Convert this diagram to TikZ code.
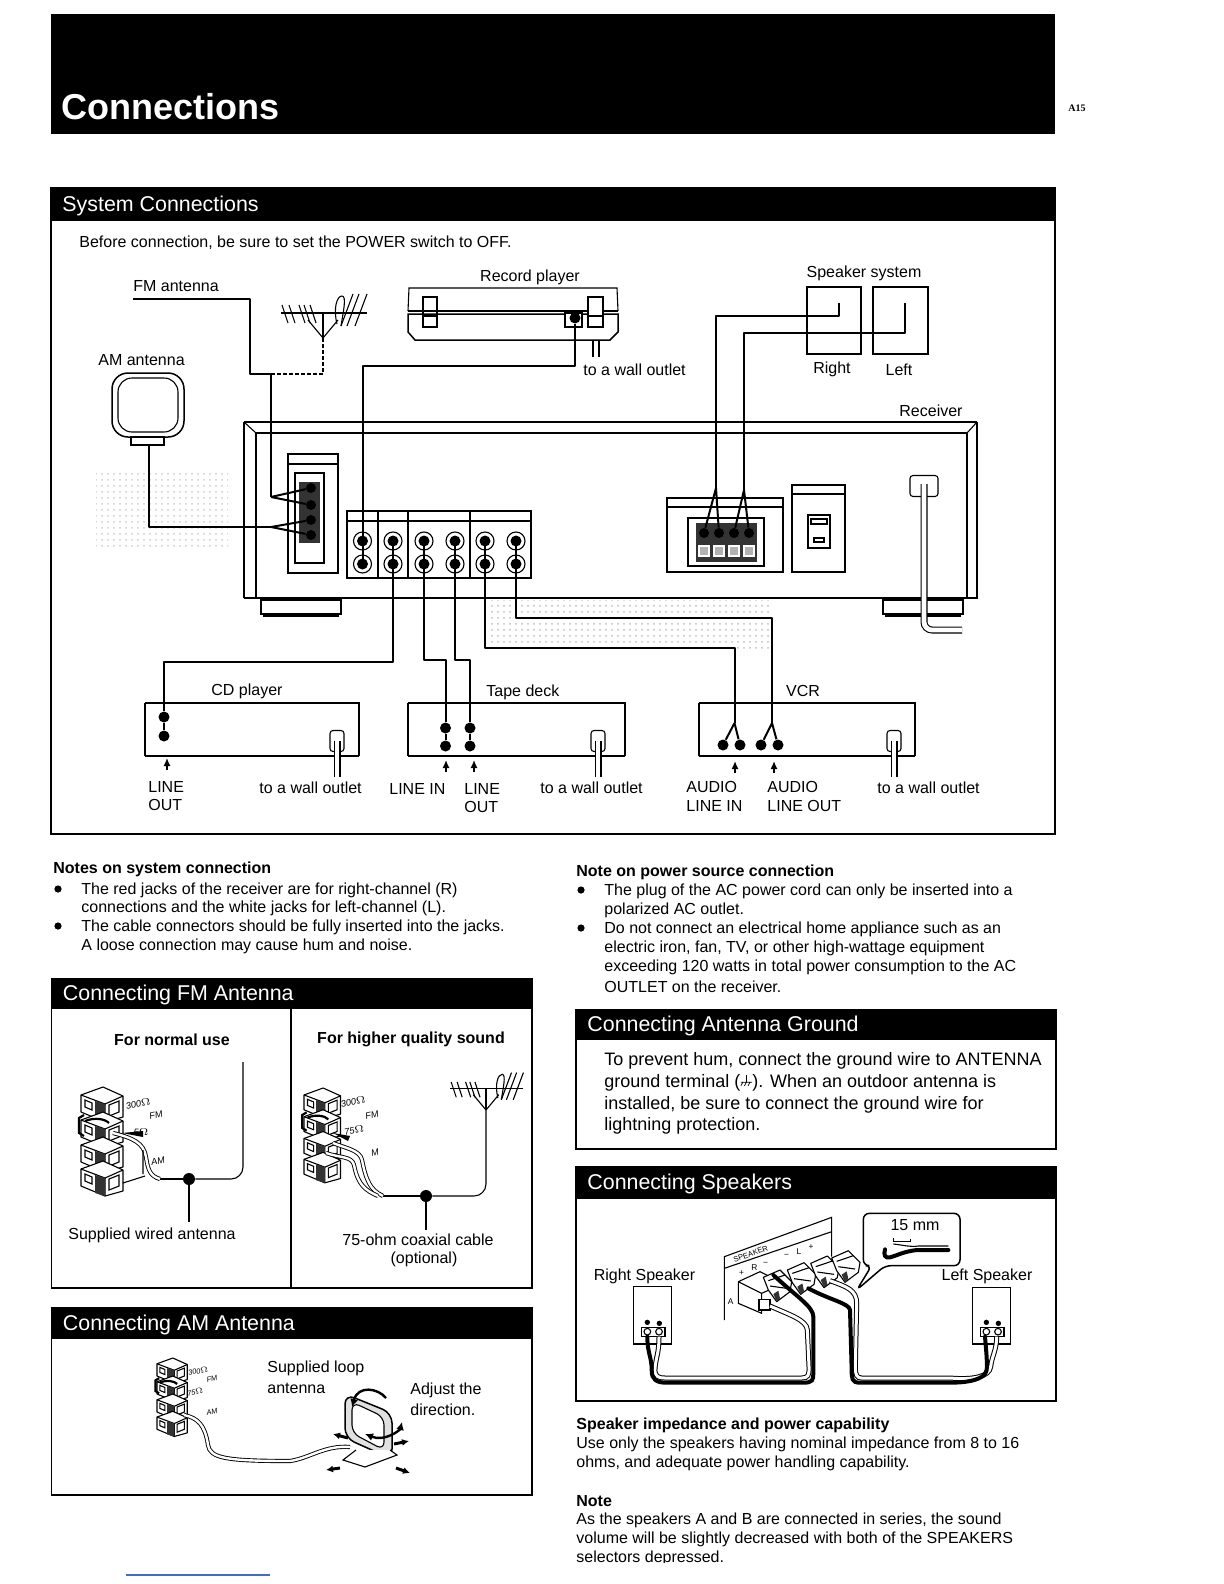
\documentclass[tikz,border=0pt]{standalone}
\usepackage{fontspec}
\setmainfont{Liberation Sans}
\newfontfamily\pagefont{Liberation Serif}
\usetikzlibrary{
    arrows.meta,
    positioning,
    calc,
    patterns
}
\definecolor{ScanBlue}{RGB}{70,105,205}
\definecolor{TermDark}{gray}{0.2}
\newcommand{\secbox}[7]{%
    \draw[frameline] (#1,#2) rectangle (#3,#5);
    \fill[black] (#1,#2) rectangle (#3,#4);
    \node[bartext] (#6) at (#1+11,#2/2+#4/2) {#7};
}
\newcommand{\groundmark}{\tikz[baseline=0pt, x=1pt, y=1pt, line width=0.35pt]{
    \draw (3.2,6) -- (3.2,2.4) (0.4,2.4) -- (6,2.4)
        (1.4,2.4) -- (0.4,0.6) (3.2,2.4) -- (2.2,0.6) (5,2.4) -- (4,0.6);}}

\tikzset{
    frameline/.style={line width=0.75pt},
    thinline/.style={line width=0.55pt},
    cable/.style={line width=1pt, line join=round},
    cord/.style={double, double distance=2.4pt, line width=0.55pt, rounded corners=4pt},
    bartext/.style={anchor=west, inner sep=0pt, yshift=-0.6pt, text=white, font=\fontsize{10.7}{12}\selectfont},
    lbl/.style={anchor=west, inner sep=0pt, yshift=-0.7pt, font=\fontsize{8}{9.6}\selectfont},
    lblc/.style={lbl, anchor=center},
    boldlbl/.style={lbl, font=\fontsize{8}{9.6}\selectfont\bfseries},
    biglbl/.style={lbl, font=\fontsize{9}{10.8}\selectfont},
    tinylbl/.style={anchor=center, inner sep=0pt, font=\fontsize{4.6}{5}\selectfont\itshape},
    jackring/.style={circle, draw, fill=white, thinline, minimum size=9pt, inner sep=0pt},
    termjack/.style={circle, fill=black, minimum size=5pt, inner sep=0pt},
    devjack/.style={circle, fill=black, minimum size=5.5pt, inner sep=0pt},
    plugbox/.style={draw, thinline, fill=white, rounded corners=1.5pt, minimum width=7pt, minimum height=10.5pt, inner sep=0pt},
    bulletmark/.style={circle, fill=black, minimum size=3.6pt, inner sep=0pt},
    joindot/.style={circle, fill=black, minimum size=6pt, inner sep=0pt},
    upmark/.style={-{Latex[length=4pt,width=3.6pt]}, line width=0.8pt},
    feedwire/.style={double, double distance=1.2pt, line width=0.45pt},
    blackwire/.style={line width=2pt, line cap=round},
    whitewire/.style={double, double distance=1.5pt, line width=0.5pt},
    termstack/.pic={
        \foreach \dy in {0,25,50,74} {
            \draw[thinline, fill=white, line join=round]
                (0,8+\dy) -- (22,\dy) -- (42,9+\dy) -- (42,30+\dy)
                -- (24,35+\dy) -- (0,25+\dy) -- cycle;
            \draw[thinline] (0,8+\dy) -- (24,17+\dy) -- (42,9+\dy) (24,17+\dy) -- (24,35+\dy);
            \fill[TermDark] (14,14+\dy) -- (24,17+\dy) -- (24,35+\dy) -- (14,32+\dy) -- cycle;
            \draw[thinline] (4,13+\dy) -- (11,16+\dy) -- (11,23+\dy) -- (4,20+\dy) -- cycle;
            \draw[thinline] (28,18+\dy) -- (38,14+\dy) -- (38,25+\dy) -- (28,29+\dy) -- cycle;
        }
        \draw[line width=1.1pt] (3,28) -- (-2,31) -- (-2,46) -- (3,49);
        \draw[line width=1.1pt] (4,34) .. controls (14,30) and (24,32) .. (28,36);
    },
    yagi/.pic={
        \draw[line width=1.1pt] (0,0) -- (0,-25);
        \draw[thinline] (-42,-25) -- (44,-25);
        \draw[thinline] (0,0) -- (-15,-18) (0,0) -- (15,-18);
        \foreach \x in {-38,-31,-21,-16,-10} {
            \draw[thinline] (\x-3,-33) -- (\x+3,-15);
        }
        \foreach \x in {24,30,38} {
            \draw[thinline] (\x+6,-44) -- (\x-6,-12);
        }
        \draw[thinline] (14,-14) .. controls (10,-30) and (14,-42) .. (19,-42)
            .. controls (24,-42) and (20,-25) .. (18,-12);
    }
}

\begin{document}
\begin{tikzpicture}[
    x=0.5pt,
    y=-0.5pt,
    >=Latex
]

\useasboundingbox (0,0) rectangle (1224,1584);

% title bar
\fill[black] (51,14) rectangle (1055,134);
\node[anchor=west, inner sep=0pt, text=white, font=\fontsize{18}{20}\selectfont\bfseries]
    (pagetitle) at (61,107) {Connections};
\node[inner sep=0pt, font=\fontsize{5}{6}\selectfont\bfseries\pagefont] (pagenum) at (1077,108) {A15};

% system connections
\secbox{51}{188}{1055}{221}{834}{sysbar}{System Connections}
\node[lbl] (sysnote) at (79,241) {Before connection, be sure to set the POWER switch to OFF.};

\fill[pattern=dots, pattern color=black!20] (96,470) rectangle (228,547);
\fill[pattern=dots, pattern color=black!25] (488,600) rectangle (772,648);

% receiver
\draw[thinline] (244,422) -- (977,422) (256,433) -- (967,433) (256,433) -- (256,598) (967,433) -- (967,598);
\draw[thinline] (244,422) -- (256,433) (977,422) -- (967,433);
\draw[thinline] (244,422) -- (244,598);
\draw[line width=1.3pt] (977,422) -- (977,598) -- (244,598);
\draw[frameline, fill=white] (261,600) rectangle (341,614);
\draw[line width=1.2pt] (263,616) -- (339,616);
\draw[frameline, fill=white] (883,600) rectangle (963,614);
\draw[line width=1.2pt] (885,616) -- (961,616);
\node[lbl] (receiverlbl) at (899,409) {Receiver};

% antenna terminals
\draw[thinline] (288,454) rectangle (338,573) (288,464) -- (338,464);
\draw[thinline] (295,473) rectangle (324,563);
\fill[TermDark] (299,482) rectangle (320,543);
\foreach \name/\y in {FMa/488,FMb/505,AMa/520,AMb/535} {
    \node[termjack] (\name) at (311,\y) {};
}

% rca jacks
\draw[thinline] (347,511) rectangle (531,578) (347,521) -- (531,521);
\foreach \x in {378,408,470} {
    \draw[thinline] (\x,511) -- (\x,578);
}
\foreach \name/\x in {A/362.5,B/393,C/424,D/455,E/485,F/516} {
    \node[jackring] (rca\name t) at (\x,541) {};
    \node[jackring] (rca\name b) at (\x,564) {};
    \fill (rca\name t) circle (5.5);
    \fill (rca\name b) circle (5.5);
    \draw[cable] (rca\name t.center) -- (rca\name b.center);
}

% speaker terminals
\draw[thinline] (667,498) rectangle (783,572) (667,507) -- (783,507);
\draw[thinline] (688,518) rectangle (764,566);
\fill[TermDark] (696,523) rectangle (757,562);
\foreach \name/\x in {Ra/704,Rb/719,La/734,Lb/749} {
    \node[termjack] (spk\name) at (\x,533) {};
    \draw[white, thinline, fill=black!30] (\x-5,546) rectangle (\x+5,556);
}

% ac outlet
\draw[thinline] (792,485) rectangle (845,572) (792,494) -- (845,494);
\draw[thinline] (808,515) rectangle (830,548);
\draw[thinline] (811,519) rectangle (827,524) (814,538) rectangle (824,542);
\node[plugbox, minimum width=14pt, minimum height=10.5pt] (acplug) at (924,486) {};
\coordinate (acend) at (962,630);
\draw[cord] (924,484) -- (924,630) -- (acend);

% fm antenna
\node[lbl] (fmlbl) at (133,285) {FM antenna};
\pic at (323,338) {yagi};
\coordinate (fmstart) at (133,299);
\coordinate (fmcorner) at (250,374);
\coordinate (fmdrop) at (271,374);
\coordinate (fmmast) at (323,338);
\coordinate (fmfork) at (271,497);
\draw[cable] (fmstart) -| (fmcorner) -- (fmdrop) -- (fmfork);
\draw[cable, dashed, dash pattern=on 2pt off 1pt] (fmdrop) -- (323,374) -- (fmmast);
\draw[cable] (fmfork) -- (FMa) (fmfork) -- (FMb);

% am antenna
\node[lbl] (amlbl) at (98,358.5) {AM antenna};
\draw[frameline, rounded corners=8pt] (112,373) rectangle (184,437);
\draw[thinline, rounded corners=7pt] (118,378) rectangle (178,432);
\draw[thinline, fill=white] (131,437) rectangle (164,445);
\coordinate (amfoot) at (149,445);
\coordinate (amfork) at (271,527);
\draw[cable] (amfoot) |- (amfork);
\draw[cable] (amfork) -- (AMa) (amfork) -- (AMb);

% record player
\node[lblc] (recordlbl) at (530,276) {Record player};
\draw[thinline] (408,311) -- (409,288) -- (617,288) -- (618,311);
\draw[frameline] (408,311) -- (618,311);
\draw[frameline] (408,314) -- (408,332) -- (415,340) -- (610,340) -- (618,332) -- (618,314) -- cycle;
\draw[thinline] (423,297) rectangle (437,327) (423,316) -- (437,316);
\draw[thinline, fill=white] (588,297) rectangle (603,327) (588,316) -- (603,316);
\draw[frameline, fill=white] (565,313) rectangle (582,327);
\node[devjack] (recjack) at (575,318) {};
\coordinate (reccorner) at (575,366);
\draw[cable] (recjack) -- (reccorner) -| (rcaAt.center);
\draw[thinline] (593,340) -- (593,357) (599,340) -- (599,357);
\node[lbl] (recwall) at (583,368) {to a wall outlet};

% speaker system
\node[lblc] (spksyslbl) at (864,272) {Speaker system};
\draw[frameline] (807,287) rectangle (861,354);
\draw[frameline] (873,287) rectangle (928,354);
\node[lblc] (rightlbl) at (832,368) {Right};
\node[lblc] (leftlbl) at (899,368) {Left};
\coordinate (spkRtop) at (839,303);
\coordinate (spkLtop) at (905,303);
\coordinate (spkRbend) at (839,316);
\coordinate (spkLbend) at (905,333);
\coordinate (spkRfork) at (716,488);
\coordinate (spkLfork) at (744,490);
\draw[cable] (spkRtop) -- (spkRbend) -| (spkRfork);
\draw[cable] (spkLtop) -- (spkLbend) -| (spkLfork);
\draw[cable] (spkRfork) -- (spkRa) (spkRfork) -- (spkRb);
\draw[cable] (spkLfork) -- (spkLa) (spkLfork) -- (spkLb);

% cd player
\draw[frameline] (145,703) -- (359,703) -- (359,756) (145,703) -- (145,756);
\draw[line width=1.1pt] (145,756) -- (359,756);
\node[lbl] (cdlbl) at (211,690) {CD player};
\node[devjack] (cdtop) at (164,717) {};
\node[devjack] (cdbot) at (164,736) {};
\coordinate (cdbend) at (393,662);
\draw[cable] (cdtop) |- (cdbend) -- (rcaBb.center);
\draw[cable] (cdtop) -- (cdbot);
\node[plugbox] (cdplug) at (337,741) {};
\coordinate (cdcord) at (337,777);
\draw[cord] (cdplug.center) -- (cdcord);
\node[lbl] (cdwall) at (259,786) {to a wall outlet};

% tape deck
\draw[frameline] (408,703) -- (625,703) -- (625,756) (408,703) -- (408,756);
\draw[line width=1.1pt] (408,756) -- (625,756);
\node[lbl] (tapelbl) at (486,691) {Tape deck};
\foreach \name/\x in {a/445.5,b/470} {
    \node[devjack] (tape\name t) at (\x,728) {};
    \node[devjack] (tape\name b) at (\x,746) {};
    \draw[cable] (tape\name t) -- (tape\name b);
}
\coordinate (tapeabend) at (424,660);
\coordinate (tapebbend) at (455,660);
\draw[cable] (tapeat) |- (tapeabend) -- (rcaCb.center);
\draw[cable] (tapebt) |- (tapebbend) -- (rcaDb.center);
\node[plugbox] (tapeplug) at (598,741) {};
\coordinate (tapecord) at (598,777);
\draw[cord] (tapeplug.center) -- (tapecord);
\node[lbl] (tapewall) at (540,786) {to a wall outlet};

% vcr
\draw[frameline] (699,703) -- (915,703) -- (915,756) (699,703) -- (699,756);
\draw[line width=1.1pt] (699,756) -- (915,756);
\node[lblc] (vcrlbl) at (803,690) {VCR};
\foreach \name/\x in {a/723,b/740,c/761,d/778} {
    \node[devjack] (vcr\name) at (\x,745) {};
}
\coordinate (vcrinfork) at (734.5,723);
\coordinate (vcroutfork) at (772,723);
\coordinate (vcrinbend) at (734.5,648);
\coordinate (vcroutbend) at (772,618);
\draw[cable] (rcaEb.center) |- (vcrinbend) -- (vcrinfork);
\draw[cable] (rcaFb.center) |- (vcroutbend) -- (vcroutfork);
\draw[cable] (vcrinfork) -- (vcra) (vcrinfork) -- (vcrb);
\draw[cable] (vcroutfork) -- (vcrc) (vcroutfork) -- (vcrd);
\node[plugbox] (vcrplug) at (894,741) {};
\coordinate (vcrcord) at (894,777);
\draw[cord] (vcrplug.center) -- (vcrcord);
\node[lbl] (vcrwall) at (877,786) {to a wall outlet};

% little arrows and jack names
\foreach \name/\x/\ya/\yb in {cd/167/770/758,ta/446/772/760,tb/474/772/760,va/735/773/761,vb/774/773/761} {
    \coordinate (up\name a) at (\x,\ya);
    \coordinate (up\name b) at (\x,\yb);
    \draw[upmark] (up\name a) -- (up\name b);
}
\node[lbl] (cdline) at (148,786) {LINE};
\node[lbl] (cdout) at (148,804) {OUT};
\node[lbl] (tapein) at (389,788) {LINE IN};
\node[lbl] (tapeline) at (464,788) {LINE};
\node[lbl] (tapeout) at (464,806) {OUT};
\node[lbl] (vcra1) at (686,786) {AUDIO};
\node[lbl] (vcra2) at (686,805) {LINE IN};
\node[lbl] (vcrb1) at (767,786) {AUDIO};
\node[lbl] (vcrb2) at (767,805) {LINE OUT};

% notes, left
\node[boldlbl] (noteshead) at (53,868) {Notes on system connection};
\foreach \y/\t [count=\i] in {
    889/{The red jacks of the receiver are for right-channel (R)},
    907/{connections and the white jacks for left-channel (L).},
    926/{The cable connectors should be fully inserted into the jacks.},
    945/{A loose connection may cause hum and noise.}} {
    \node[lbl] (noteL\i) at (81,\y) {\t};
}
\node[bulletmark] (bulA) at (58,889) {};
\node[bulletmark] (bulB) at (58,926) {};

% notes, right
\node[boldlbl] (powerhead) at (576,870.5) {Note on power source connection};
\foreach \y/\t [count=\i] in {
    890/{The plug of the AC power cord can only be inserted into a},
    909/{polarized AC outlet.},
    928/{Do not connect an electrical home appliance such as an},
    947/{electric iron, fan, TV, or other high-wattage equipment},
    966/{exceeding 120 watts in total power consumption to the AC},
    985/{OUTLET on the receiver.}} {
    \node[lbl] (noteR\i) at (604,\y) {\t};
}
\node[bulletmark] (bulC) at (581,890) {};
\node[bulletmark] (bulD) at (581,928) {};

% fm antenna section
\secbox{51.5}{979}{532}{1009}{1288}{fmbar}{Connecting FM Antenna}
\draw[frameline] (291,1009) -- (291,1288);
\node[boldlbl, anchor=center] (normalhead) at (172,1038) {For normal use};
\node[boldlbl, anchor=center] (higherhead) at (411,1038) {For higher quality sound};
\pic at (81,1087) {termstack};
\node[tinylbl, rotate=12] (fmA300) at (138,1104) {300$\Omega$};
\node[tinylbl, rotate=12] (fmAfm) at (156,1115) {FM};
\node[tinylbl] (fmA75) at (141,1132) {5$\Omega$};
\node[tinylbl, rotate=12] (fmAam) at (158,1161) {AM};
\node[joindot] (wireddot) at (189,1179) {};
\coordinate (wiredtop) at (243,1062);
\coordinate (wiredstem) at (189,1222);
\coordinate (wiredcable) at (160,1179);
\draw[thinline, rounded corners=6pt] (wiredtop) |- (wireddot);
\draw[thinline] (wireddot) -- (wiredcable);
\draw[thinline] (wireddot) -- (wiredstem);
\draw[feedwire] (wiredcable) .. controls (150,1176) and (148,1170) .. (146,1157)
    .. controls (144,1143) and (133,1138) .. (113,1133);
\fill (122,1133) -- (143,1131) -- (143,1137) -- cycle;
\draw[thinline] (123,1183) -- (145,1176) (143,1150) -- (143,1174);
\node[lblc] (wiredlbl) at (152,1234) {Supplied wired antenna};

\pic[scale=0.87] at (304,1088) {termstack};
\pic[scale=0.85] at (486,1110) {yagi};
\node[tinylbl, rotate=12] (fmB300) at (353,1102) {300$\Omega$};
\node[tinylbl, rotate=12] (fmBfm) at (372,1115) {FM};
\node[tinylbl, rotate=12] (fmB75) at (354,1130) {75$\Omega$};
\node[tinylbl, rotate=12] (fmBam) at (375,1153) {M};
\node[joindot] (coaxdot) at (426,1196) {};
\coordinate (coaxtop) at (486,1110);
\coordinate (coaxstem) at (426,1230);
\coordinate (coaxcable) at (383,1196);
\draw[thinline, rounded corners=6pt] (coaxtop) |- (coaxdot);
\draw[thinline] (coaxdot) -- (coaxcable);
\draw[thinline] (coaxdot) -- (coaxstem);
\draw[feedwire] (coaxcable) .. controls (370,1190) and (366,1180) .. (362,1160)
    .. controls (360,1150) and (345,1148) .. (333,1143);
\draw[feedwire] (378,1196) .. controls (365,1190) and (358,1185) .. (354,1165)
    .. controls (352,1156) and (340,1158) .. (326,1153);
\fill (333,1133) -- (350,1136) -- (348,1141) -- cycle;
\node[lblc] (coaxlbl) at (418,1238) {75-ohm coaxial cable};
\node[lblc] (coaxlblb) at (424,1258) {(optional)};

% am antenna section
\secbox{51.5}{1308}{532}{1339}{1495}{ambar}{Connecting AM Antenna}
\pic[scale=0.72] at (157,1358) {termstack};
\node[tinylbl, scale=0.8, rotate=12] (amA300) at (198,1371) {300$\Omega$};
\node[tinylbl, scale=0.8, rotate=12] (amAfm) at (212,1379) {FM};
\node[tinylbl, scale=0.8, rotate=12] (amA75) at (195,1392) {75$\Omega$};
\node[tinylbl, scale=0.8, rotate=12] (amAam) at (212,1412) {AM};
\node[lbl] (looplbl) at (267,1367) {Supplied loop};
\node[lbl] (looplblb) at (267,1387) {antenna};
\node[lbl] (adjustlbl) at (410,1389) {Adjust the};
\node[lbl] (adjustlblb) at (410,1408) {direction.};
\draw[frameline, fill=black!12, rounded corners=5pt] (345,1394) -- (392,1413) -- (392,1459) -- (345,1438) -- cycle;
\draw[thinline, fill=white, rounded corners=4pt] (352,1402) -- (384,1417) -- (384,1450) -- (352,1433) -- cycle;
\draw[thinline, fill=white] (356,1450) -- (343,1460) -- (365,1467) -- (397,1455) -- (390,1450);
\coordinate (loopfoot) at (350,1447);
\coordinate (looptermA) at (184,1415);
\draw[feedwire] (looptermA) .. controls (198,1418) and (205,1425) .. (208,1445)
    .. controls (210,1458) and (225,1461) .. (290,1461)
    .. controls (310,1458) and (325,1445) .. (loopfoot);
\draw[{Latex[length=4pt,width=4pt]}-, line width=1.2pt] (352,1407) .. controls (358,1385) and (378,1388) .. (386,1398);
\draw[{Latex[length=4pt,width=4pt]}-{Latex[length=4pt,width=4pt]}, line width=1.2pt] (365,1434) .. controls (385,1442) and (400,1430) .. (402,1422);
\foreach \name/\xa/\ya/\xb/\yb in {A/348/1438/333/1434,B/394/1444/409/1441,C/340/1468/326/1470,D/396/1468/410/1473} {
    \coordinate (move\name a) at (\xa,\ya);
    \coordinate (move\name b) at (\xb,\yb);
    \draw[-{Latex[length=3.5pt,width=3.5pt]}, line width=1.5pt] (move\name a) -- (move\name b);
}

% antenna ground
\secbox{576}{1010}{1056}{1040}{1149}{groundbar}{Connecting Antenna Ground}
\node[biglbl] (groundA) at (604,1059) {To prevent hum, connect the ground wire to ANTENNA};
\node[biglbl] (groundB) at (604,1081) {ground terminal (\groundmark). When an outdoor antenna is};
\node[biglbl] (groundC) at (604,1103) {installed, be sure to connect the ground wire for};
\node[biglbl] (groundD) at (604,1124) {lightning protection.};

% speakers
\secbox{576}{1167}{1056}{1199}{1401}{spkbar}{Connecting Speakers}
\node[lblc] (rightspk) at (644.5,1275) {Right Speaker};
\node[lblc] (leftspk) at (987,1275) {Left Speaker};
\begin{scope}[shift={(570,1160)}, x=0.16667pt, y=-0.16667pt]
    \draw[thinline] (463,480) -- (463,290) -- (785,172) -- (785,290);
    \draw[thinline] (463,325) -- (785,215);
    \node[inner sep=0pt, rotate=20, font=\fontsize{3.8}{5}\selectfont] (spkword) at (542,282) {SPEAKER};
    \foreach \name/\x/\y/\t in {a/515/338/+,b/553/324/R,c/587/312/−,d/650/288/−,e/687/275/L,f/723/262/+,g/482/425/A} {
        \node[inner sep=0pt, font=\fontsize{4.2}{5}\selectfont] (spkmark\name) at (\x,\y) {\t};
    }
    \draw[thinline, fill=white] (505,365) -- (570,335) -- (640,370) -- (575,400) -- (575,460) -- (505,430) -- cycle;
    \draw[thinline] (505,365) -- (575,400);
    \draw[thinline, fill=white] (567,418) rectangle (600,450);
    \foreach \ox/\oy in {0/0,72/-22,142/-42,205/-58} {
        \draw[thinline, fill=white, line join=round] (\ox+580,\oy+352) -- (\ox+630,\oy+330) -- (\ox+665,\oy+365)
            -- (\ox+660,\oy+395) -- (\ox+620,\oy+425) -- (\ox+595,\oy+390) -- cycle;
        \draw[thinline] (\ox+595,\oy+362) -- (\ox+645,\oy+345) (\ox+600,\oy+378) -- (\ox+650,\oy+385);
        \fill[TermDark] (\ox+610,\oy+402) -- (\ox+625,\oy+392) -- (\ox+630,\oy+415) -- (\ox+620,\oy+425) -- cycle;
    }
    \draw[frameline] (190,380) rectangle (305,552);
    \draw[frameline] (1207,382) rectangle (1322,552);
    \foreach \name/\x in {R/215,L/1232} {
        \draw[frameline, fill=white] (\x,502) rectangle (\x+70,530);
        \fill (\x+17,487) circle (8) (\x+53,490) circle (8);
        \draw[thinline, fill=white] (\x+17,515) circle (10) (\x+52,515) circle (10);
    }
    \draw[whitewire] (267,530) .. controls (267,580) and (258,590) .. (255,625)
        .. controls (253,650) and (265,654) .. (285,654) -- (695,654)
        .. controls (715,654) and (718,645) .. (717,620) -- (712,510)
        .. controls (710,480) and (660,465) .. (600,438);
    \draw[blackwire] (232,530) .. controls (232,580) and (245,590) .. (245,630)
        .. controls (245,660) and (260,668) .. (290,668) -- (700,668)
        .. controls (728,668) and (730,660) .. (730,640) -- (730,470)
        .. controls (730,440) and (680,410) .. (610,345);
    \draw[whitewire] (1280,530) .. controls (1280,570) and (1265,590) .. (1262,620)
        .. controls (1258,650) and (1210,660) .. (1140,654) -- (875,654)
        .. controls (860,654) and (856,645) .. (856,620) -- (860,430)
        .. controls (860,390) and (830,380) .. (780,362);
    \draw[blackwire] (1245,530) .. controls (1248,570) and (1252,600) .. (1250,630)
        .. controls (1245,660) and (1190,668) .. (1140,668) -- (870,668)
        .. controls (845,668) and (845,655) .. (845,630) -- (840,450)
        .. controls (838,430) and (780,420) .. (715,385);
    \draw[frameline, fill=white, rounded corners=3pt] (905,317) -- (860,390) -- (945,317) -- (1170,317) -- (1170,160) -- (880,160) -- (880,317) -- cycle;
    \node[inner sep=0pt, font=\fontsize{8}{9.6}\selectfont] (bareword) at (1035,195) {15 mm};
    \draw[thinline] (970,235) -- (970,245) -- (1022,245) -- (1022,238);
    \draw[thinline] (1135,258) -- (1045,258) .. controls (1020,262) and (1000,255) .. (970,252);
    \draw[blackwire] (1135,270) -- (1040,270) .. controls (1000,275) and (985,285) .. (960,292) .. controls (945,295) and (940,285) .. (945,268);
\end{scope}

% text below speakers
\node[boldlbl] (imphead) at (576,1424) {Speaker impedance and power capability};
\node[lbl] (impA) at (576,1443) {Use only the speakers having nominal impedance from 8 to 16};
\node[lbl] (impB) at (576,1462) {ohms, and adequate power handling capability.};
\node[boldlbl] (notehead) at (576,1500) {Note};
\node[lbl] (noteA) at (576,1519) {As the speakers A and B are connected in series, the sound};
\node[lbl] (noteB) at (576,1538) {volume will be slightly decreased with both of the SPEAKERS};
\node[lbl] (noteC) at (576,1557) {selectors depressed.};
\fill[white] (570,1563) rectangle (1060,1584);
\draw[ScanBlue, line width=0.6pt] (126,1575) -- (270,1575);

\end{tikzpicture}
\end{document}
